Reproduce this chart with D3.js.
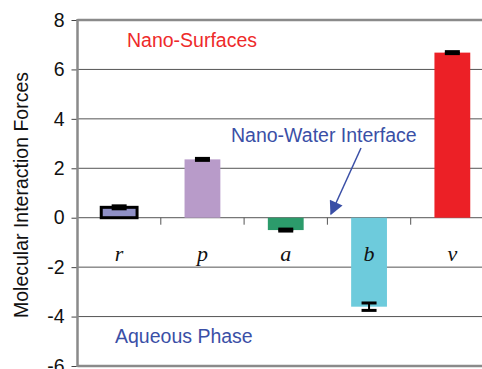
<!DOCTYPE html>
<html>
<head>
<meta charset="utf-8">
<script src="https://cdn.jsdelivr.net/npm/d3@7"></script>
<style>
  body { margin: 0; background: #fff; }
  svg { display: block; }
</style>
</head>
<body>
<div id="chart"></div>
<script>
// Data
const categories = ["r", "p", "a", "b", "v"];
const values = [0.42, 2.36, -0.5, -3.6, 6.68];
const errors = [0.06, 0.04, 0.04, 0.15, 0.04];
const barColors = ["#8f90c6", "#b89bc9", "#2c9b6b", "#6dcbdc", "#ec2026"];
const yTicks = [-6, -4, -2, 0, 2, 4, 6, 8];

const W = 482, H = 369;
const margin = { top: 20, right: -12, bottom: 3, left: 77.5 };

const svg = d3.select("#chart")
  .append("svg")
  .attr("width", W)
  .attr("height", H);

const x = d3.scaleBand()
  .domain(categories)
  .range([margin.left, W - margin.right])
  .paddingInner(0.57)
  .paddingOuter(0.285);

const y = d3.scaleLinear()
  .domain([-6, 8])
  .range([H - margin.bottom, margin.top]);

const left = margin.left, right = W - margin.right;

// Gridlines
svg.append("g")
  .selectAll("line")
  .data(yTicks.filter(d => d !== -6 && d !== 8))
  .enter().append("line")
  .attr("x1", left)
  .attr("x2", right)
  .attr("y1", d => y(d))
  .attr("y2", d => y(d))
  .attr("stroke", "#555")
  .attr("stroke-width", 1);

// Y axis ticks + labels (plain hyphen for negatives, like the original)
const yAxis = svg.append("g")
  .attr("transform", `translate(${left},0)`)
  .call(d3.axisLeft(y).tickValues(yTicks).tickSize(6).tickPadding(7).tickFormat(d => String(d)));
yAxis.select(".domain").remove();
yAxis.selectAll("line").attr("stroke", "#444");
yAxis.selectAll("text")
  .style("font-family", "Liberation Sans, Arial, sans-serif")
  .style("font-size", "19.5px")
  .attr("fill", "#111");

// Frame: left, top, bottom (gray)
svg.append("line")
  .attr("x1", left).attr("x2", right)
  .attr("y1", y(8)).attr("y2", y(8))
  .attr("stroke", "#8a8a8a").attr("stroke-width", 2.5);
svg.append("line")
  .attr("x1", left).attr("x2", right)
  .attr("y1", y(-6)).attr("y2", y(-6))
  .attr("stroke", "#8a8a8a").attr("stroke-width", 2.5);
svg.append("line")
  .attr("x1", left).attr("x2", left)
  .attr("y1", y(8) - 1).attr("y2", y(-6) + 1)
  .attr("stroke", "#8a8a8a").attr("stroke-width", 2.5);

// Category boundary ticks below the zero line
const step = x.step();
svg.append("g")
  .selectAll("line")
  .data(categories.slice(0, -1))
  .enter().append("line")
  .attr("x1", d => x(d) + x.bandwidth() + step * x.paddingInner() / 2)
  .attr("x2", d => x(d) + x.bandwidth() + step * x.paddingInner() / 2)
  .attr("y1", y(0))
  .attr("y2", y(0) + 7)
  .attr("stroke", "#555");

// Bars
const bars = categories.map((c, i) => ({ cat: c, value: values[i], err: errors[i], color: barColors[i] }));

svg.selectAll(".bar")
  .data(bars)
  .enter().append("rect")
  .attr("class", "bar")
  .attr("x", d => x(d.cat))
  .attr("y", d => y(Math.max(0, d.value)))
  .attr("width", x.bandwidth())
  .attr("height", d => Math.abs(y(d.value) - y(0)))
  .attr("fill", d => d.color)
  .attr("stroke", (d, i) => i === 0 ? "#000" : "none")
  .attr("stroke-width", 3);

// Error bars
const eb = svg.selectAll(".err")
  .data(bars)
  .enter().append("g")
  .attr("class", "err");
const capW = 15;
eb.append("line")
  .attr("x1", d => x(d.cat) + x.bandwidth() / 2)
  .attr("x2", d => x(d.cat) + x.bandwidth() / 2)
  .attr("y1", d => y(d.value + d.err))
  .attr("y2", d => y(d.value - d.err))
  .attr("stroke", "#000").attr("stroke-width", 2);
eb.selectAll(".cap")
  .data(d => [d.value + d.err, d.value - d.err].map(v => ({ v: v, cat: d.cat })))
  .enter().append("line")
  .attr("x1", d => x(d.cat) + x.bandwidth() / 2 - capW / 2)
  .attr("x2", d => x(d.cat) + x.bandwidth() / 2 + capW / 2)
  .attr("y1", d => y(d.v))
  .attr("y2", d => y(d.v))
  .attr("stroke", "#000").attr("stroke-width", 3);

// Category labels
svg.selectAll(".cat")
  .data(categories)
  .enter().append("text")
  .attr("x", d => x(d) + x.bandwidth() / 2)
  .attr("y", y(0) + 43)
  .attr("text-anchor", "middle")
  .style("font-family", "Liberation Serif, Times New Roman, serif")
  .style("font-style", "italic")
  .style("font-size", "22px")
  .attr("fill", "#111")
  .text(d => d);

// Y axis title
svg.append("text")
  .attr("transform", `translate(28, ${(y(8) + y(-6)) / 2 + 2}) rotate(-90)`)
  .attr("text-anchor", "middle")
  .style("font-family", "Liberation Sans, Arial, sans-serif")
  .style("font-size", "19.5px")
  .attr("fill", "#111")
  .text("Molecular Interaction Forces");

// Annotations
svg.append("text")
  .attr("x", 127).attr("y", 47)
  .style("font-family", "Liberation Sans, Arial, sans-serif")
  .style("font-size", "19.5px")
  .attr("fill", "#ee2a2a")
  .text("Nano-Surfaces");

svg.append("text")
  .attr("x", 231).attr("y", 141.5)
  .style("font-family", "Liberation Sans, Arial, sans-serif")
  .style("font-size", "19.5px")
  .attr("fill", "#3a4fa6")
  .text("Nano-Water Interface");

svg.append("text")
  .attr("x", 115).attr("y", 343)
  .style("font-family", "Liberation Sans, Arial, sans-serif")
  .style("font-size", "19.5px")
  .attr("fill", "#3a4fa6")
  .text("Aqueous Phase");

// Arrow
svg.append("defs").append("marker")
  .attr("id", "arrowhead")
  .attr("viewBox", "0 0 10 10")
  .attr("refX", 9).attr("refY", 5)
  .attr("markerWidth", 16).attr("markerHeight", 14)
  .attr("markerUnits", "userSpaceOnUse")
  .attr("orient", "auto")
  .append("path")
  .attr("d", "M0,0 L10,5 L0,10 Z")
  .attr("fill", "#3a4fa6");

svg.append("line")
  .attr("x1", 361).attr("y1", 148)
  .attr("x2", 331).attr("y2", 214)
  .attr("stroke", "#3a4fa6")
  .attr("stroke-width", 1.5)
  .attr("marker-end", "url(#arrowhead)");
</script>
</body>
</html>
